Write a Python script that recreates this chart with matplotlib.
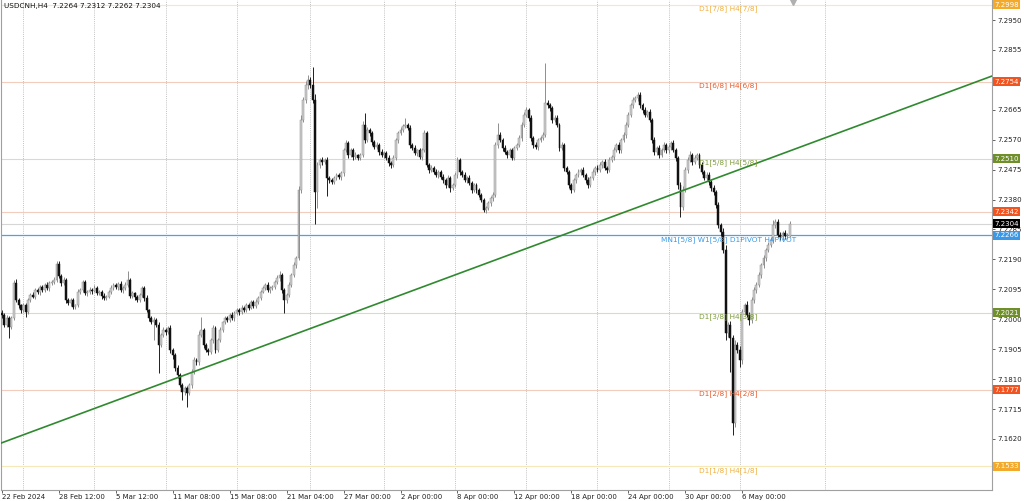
import numpy as np
import matplotlib
matplotlib.use("Agg")
import matplotlib.pyplot as plt
import matplotlib.transforms as mtransforms

# USDCNH H4 closes, one per bar (22 Feb 2024 .. 9 May 2024)
first_open = 7.2020
closes = [
    7.2014, 7.1982, 7.2004, 7.1975, 7.2004, 7.2115, 7.2061, 7.2045, 7.2029, 7.2045, 7.2023, 7.2061,
    7.2077, 7.2071, 7.2093, 7.2087, 7.2102, 7.2093, 7.2109, 7.2099, 7.2115, 7.2118, 7.2125, 7.2175,
    7.2137, 7.2115, 7.2125, 7.2061, 7.2052, 7.2061, 7.2039, 7.2045, 7.2087, 7.2093, 7.2118, 7.2083,
    7.2087, 7.2093, 7.2090, 7.2099, 7.2083, 7.2087, 7.2074, 7.2068, 7.2071, 7.2087, 7.2099, 7.2109,
    7.2102, 7.2112, 7.2093, 7.2099, 7.2109, 7.2125, 7.2074, 7.2083, 7.2071, 7.2061, 7.2077, 7.2099,
    7.2068, 7.2029, 7.2004, 7.1991, 7.1998, 7.1982, 7.1918, 7.1950, 7.1966, 7.1960, 7.1972, 7.1902,
    7.1887, 7.1845, 7.1823, 7.1791, 7.1769, 7.1782, 7.1766, 7.1791, 7.1833, 7.1871, 7.1864, 7.1950,
    7.1966, 7.1918, 7.1902, 7.1896, 7.1934, 7.1972, 7.1902, 7.1934, 7.1966, 7.1991, 7.2004, 7.1998,
    7.2014, 7.2004, 7.2020, 7.2029, 7.2023, 7.2036, 7.2029, 7.2045, 7.2036, 7.2055, 7.2042, 7.2055,
    7.2068, 7.2087, 7.2099, 7.2109, 7.2093, 7.2099, 7.2102, 7.2118, 7.2131, 7.2140, 7.2093, 7.2061,
    7.2077, 7.2109, 7.2140, 7.2172, 7.2194, 7.2410, 7.2633, 7.2696, 7.2744, 7.2760, 7.2744, 7.2696,
    7.2404, 7.2490, 7.2506, 7.2499, 7.2506, 7.2449, 7.2442, 7.2436, 7.2449, 7.2458, 7.2452, 7.2464,
    7.2537, 7.2560, 7.2521, 7.2537, 7.2515, 7.2521, 7.2512, 7.2521, 7.2617, 7.2569, 7.2601, 7.2591,
    7.2563, 7.2547, 7.2553, 7.2531, 7.2521, 7.2528, 7.2512, 7.2496, 7.2490, 7.2512, 7.2569, 7.2591,
    7.2601, 7.2614, 7.2617, 7.2607, 7.2553, 7.2544, 7.2528, 7.2537, 7.2515, 7.2537, 7.2591, 7.2490,
    7.2474, 7.2480, 7.2468, 7.2458, 7.2468, 7.2452, 7.2442, 7.2426, 7.2449, 7.2417, 7.2426, 7.2458,
    7.2506, 7.2468, 7.2458, 7.2442, 7.2449, 7.2433, 7.2410, 7.2426, 7.2410, 7.2394, 7.2379, 7.2347,
    7.2353, 7.2369, 7.2385, 7.2394, 7.2553, 7.2585, 7.2569, 7.2544, 7.2531, 7.2521, 7.2537, 7.2512,
    7.2544, 7.2553, 7.2575, 7.2617, 7.2649, 7.2664, 7.2639, 7.2575, 7.2553, 7.2547, 7.2569, 7.2575,
    7.2585, 7.2687, 7.2680, 7.2671, 7.2633, 7.2639, 7.2617, 7.2544, 7.2553, 7.2480, 7.2468, 7.2426,
    7.2410, 7.2442, 7.2458, 7.2468, 7.2474, 7.2458, 7.2442, 7.2426, 7.2449, 7.2468, 7.2480, 7.2474,
    7.2490, 7.2499, 7.2480, 7.2474, 7.2506, 7.2515, 7.2537, 7.2553, 7.2537, 7.2569, 7.2585, 7.2617,
    7.2649, 7.2680, 7.2696, 7.2702, 7.2712, 7.2680, 7.2664, 7.2649, 7.2658, 7.2633, 7.2569, 7.2531,
    7.2544, 7.2521, 7.2537, 7.2553, 7.2537, 7.2547, 7.2560, 7.2537, 7.2512, 7.2426, 7.2356, 7.2410,
    7.2474, 7.2506, 7.2521, 7.2499, 7.2512, 7.2521, 7.2490, 7.2468, 7.2449, 7.2458, 7.2436, 7.2417,
    7.2404, 7.2363, 7.2299, 7.2277, 7.2220, 7.1956, 7.1982, 7.1941, 7.1671, 7.1918, 7.1902, 7.1871,
    7.2023, 7.2045, 7.2014, 7.1998, 7.2061, 7.2093, 7.2109, 7.2140, 7.2172, 7.2194, 7.2220, 7.2236,
    7.2252, 7.2299, 7.2309, 7.2267, 7.2261, 7.2274, 7.2264, 7.2264, 7.2304,
]
# wick length beyond the body, in pips (0.0001)
upper_wick = [
    8, 6, 10, 5, 6, 9, 12, 6, 5, 8, 6, 7,
    6, 8, 5, 7, 6, 8, 5, 9, 6, 7, 8, 10,
    9, 6, 8, 5, 7, 6, 8, 5, 9, 7, 6, 8,
    6, 8, 5, 9, 6, 7, 5, 8, 6, 7, 9, 6,
    7, 5, 8, 6, 9, 28, 6, 8, 5, 7, 6, 8,
    6, 9, 5, 7, 8, 6, 10, 6, 8, 5, 7, 9,
    7, 6, 9, 5, 8, 6, 7, 6, 9, 8, 6, 12,
    41, 7, 6, 8, 5, 9, 7, 6, 8, 5, 7, 6,
    6, 8, 5, 7, 6, 9, 5, 8, 6, 7, 6, 8,
    7, 6, 8, 5, 9, 6, 7, 8, 10, 12, 6, 5,
    6, 8, 7, 9, 6, 12, 15, 10, 12, 15, 8, 57,
    20, 8, 6, 9, 7, 10, 6, 8, 5, 7, 6, 8,
    6, 10, 7, 8, 6, 9, 5, 7, 12, 38, 8, 6,
    7, 6, 9, 5, 8, 6, 7, 8, 6, 9, 7, 6,
    8, 6, 22, 7, 9, 6, 8, 5, 7, 6, 10, 8,
    6, 9, 7, 8, 6, 7, 9, 5, 8, 6, 7, 9,
    10, 7, 6, 8, 7, 9, 6, 8, 7, 6, 8, 7,
    6, 8, 7, 9, 10, 38, 8, 7, 9, 6, 8, 7,
    7, 8, 9, 10, 8, 10, 7, 8, 6, 9, 7, 8,
    8, 126, 10, 8, 7, 9, 8, 6, 9, 7, 8, 6,
    7, 8, 6, 9, 7, 8, 6, 10, 7, 8, 6, 9,
    8, 7, 9, 6, 8, 7, 9, 8, 10, 7, 8, 9,
    9, 8, 10, 7, 9, 8, 7, 9, 6, 8, 7, 9,
    7, 9, 8, 10, 7, 8, 6, 9, 8, 7, 10, 12,
    8, 10, 12, 7, 9, 8, 6, 9, 7, 8, 10, 7,
    9, 7, 10, 8, 12, 15, 10, 12, 10, 15, 10, 12,
    10, 8, 12, 9, 10, 8, 9, 10, 8, 9, 7, 10,
    9, 16, 10, 8, 9, 7, 8, 9, 8,
]
lower_wick = [
    10, 8, 6, 35, 7, 5, 6, 8, 9, 6, 15, 6,
    7, 5, 8, 6, 9, 5, 7, 6, 8, 5, 6, 7,
    6, 9, 7, 8, 6, 10, 5, 8, 6, 7, 8, 6,
    8, 6, 9, 5, 7, 6, 10, 6, 8, 5, 7, 6,
    6, 8, 5, 9, 6, 7, 8, 6, 9, 5, 7, 6,
    9, 6, 8, 7, 57, 6, 89, 7, 6, 9, 8, 10,
    12, 8, 10, 7, 25, 9, 45, 6, 8, 7, 10, 8,
    6, 9, 7, 10, 6, 8, 9, 7, 6, 8, 5, 7,
    7, 6, 8, 5, 9, 6, 7, 6, 8, 5, 7, 6,
    6, 8, 5, 7, 6, 9, 6, 7, 5, 8, 10, 41,
    8, 6, 7, 5, 8, 6, 10, 8, 9, 12, 10, 8,
    100, 50, 10, 8, 7, 58, 9, 6, 8, 7, 6, 9,
    8, 6, 9, 7, 10, 6, 8, 7, 6, 10, 7, 8,
    9, 7, 6, 10, 7, 8, 6, 9, 10, 7, 6, 8,
    6, 8, 7, 6, 10, 8, 7, 9, 6, 10, 7, 8,
    9, 7, 8, 6, 10, 7, 8, 9, 6, 12, 8, 7,
    8, 9, 7, 6, 8, 7, 10, 6, 9, 7, 8, 6,
    9, 7, 8, 10, 6, 8, 7, 9, 6, 10, 7, 8,
    8, 7, 6, 9, 7, 8, 10, 9, 8, 7, 9, 6,
    7, 6, 8, 10, 9, 7, 8, 10, 6, 9, 8, 10,
    9, 7, 8, 6, 10, 7, 9, 8, 6, 7, 10, 8,
    7, 9, 6, 10, 8, 7, 9, 6, 8, 10, 7, 8,
    8, 7, 9, 6, 8, 10, 9, 7, 8, 6, 10, 8,
    9, 8, 7, 6, 10, 8, 9, 7, 10, 12, 31, 8,
    7, 9, 8, 10, 6, 8, 9, 7, 8, 6, 9, 10,
    8, 10, 9, 12, 10, 22, 12, 108, 38, 12, 10, 22,
    12, 10, 8, 15, 10, 8, 9, 7, 10, 8, 9, 8,
    8, 9, 10, 7, 8, 9, 10, 8, 2,
]

title_text = "USDCNH,H4  7.2264 7.2312 7.2262 7.2304"

# bottom time labels, one every 24 bars
time_label_bars = [0, 24, 48, 72, 96, 120, 144, 168, 192, 216, 240, 264, 288, 312]
time_labels = ['22 Feb 2024', '28 Feb 12:00', '5 Mar 12:00', '11 Mar 08:00', '15 Mar 08:00',
               '21 Mar 04:00', '27 Mar 00:00', '2 Apr 00:00', '8 Apr 00:00', '12 Apr 00:00',
               '18 Apr 00:00', '24 Apr 00:00', '30 Apr 00:00', '6 May 00:00']
# weekly separators (bar index)
week_bars = [9, 39, 69, 99, 130, 161, 191, 221, 251, 281, 311, 347]

price_ticks = [7.2950, 7.2855, 7.2760, 7.2665, 7.2570, 7.2475, 7.2380, 7.2285,
               7.2190, 7.2095, 7.2000, 7.1905, 7.1810, 7.1715, 7.1620]

# Murrey-math levels
level_prices = [7.2998, 7.2754, 7.2510, 7.2342, 7.2266, 7.2021, 7.1777, 7.1533]
level_texts = ['D1[7/8] H4[7/8]', 'D1[6/8] H4[6/8]', 'D1[5/8] H4[5/8]', '',
               'MN1[5/8] W1[5/8] D1PIVOT H4PIVOT', 'D1[3/8] H4[3/8]',
               'D1[2/8] H4[2/8]', 'D1[1/8] H4[1/8]']
level_kinds = ['gold', 'red', 'olive', 'red', 'blue', 'olive', 'red', 'gold']
bid_price = 7.2304

# trend line anchors (bar, price)
trend_a = (0, 7.1608)
trend_b = (333, 7.2537)

line_col = {'gold': '#f6e8b8', 'red': '#f2cdbd', 'olive': '#dcdcbc', 'blue': '#4aa3e6'}
box_col = {'gold': '#f3aa2c', 'red': '#f2531f', 'olive': '#6f8f2a', 'blue': '#3b98e6'}
txt_col = {'gold': '#f0b040', 'red': '#e95a2c', 'olive': '#7f9d3e', 'blue': '#3b98e6'}

plt.rcParams['font.family'] = ['DejaVu Sans']
FS = 5.0

c = np.array(closes)
o = np.array([first_open] + closes[:-1])
hi = np.maximum(o, c) + np.array(upper_wick) / 10000.0
lo = np.minimum(o, c) - np.array(lower_wick) / 10000.0
x = np.arange(len(c))
bull = c >= o
bear = ~bull

fig = plt.figure(figsize=(10.24, 5.01), dpi=100)
ax = fig.add_axes([1 / 1024, 11 / 501, 991 / 1024, 490 / 501])
ax.set_xlim(-0.4, 417.3)
ax.set_ylim(7.1458, 7.30135)

for wb in week_bars:
    ax.axvline(wb, color='#c2c2c2', lw=0.7, ls=(0, (1, 1.2)), zorder=0)

for p, k in zip(level_prices, level_kinds):
    ax.axhline(p, color=line_col[k], lw=0.9 if k == 'blue' else 0.8, zorder=1)
ax.axhline(bid_price, color='#d6d6d6', lw=0.8, zorder=1)

ax.axline(trend_a, trend_b, color='#2f8a2f', lw=1.2, zorder=4)

# candles
ax.vlines(x[bull], lo[bull], hi[bull], color='#8e8e8e', lw=0.7, zorder=2)
ax.vlines(x[bear], lo[bear], hi[bear], color='#1e1e1e', lw=0.7, zorder=2)
bh = np.maximum(np.abs(c - o), 0.00006)
ax.bar(x[bull], bh[bull], bottom=o[bull], width=0.8, color='#cdcdcd',
       edgecolor='#8e8e8e', linewidth=0.35, zorder=3)
ax.bar(x[bear], bh[bear], bottom=c[bear], width=0.8, color='#111111',
       edgecolor='#111111', linewidth=0.35, zorder=3)

# level captions
trans_mix = mtransforms.blended_transform_factory(ax.transAxes, ax.transData)
for p, t, k in zip(level_prices, level_texts, level_kinds):
    if t:
        ax.text(0.734, p - 0.0002, t, transform=trans_mix,
                ha='center', va='top', fontsize=FS + 0.3, color=txt_col[k], zorder=5)

# right price axis
ax.yaxis.tick_right()
ax.set_yticks(price_ticks)
ax.set_yticklabels([f"{v:.4f}" for v in price_ticks])
ax.tick_params(axis='y', labelsize=FS, colors='#222222', length=2, width=0.5, pad=2)

ax.set_xticks(time_label_bars)
ax.set_xticklabels(time_labels, ha='left')
ax.tick_params(axis='x', labelsize=FS, colors='#222222', length=2, width=0.5, pad=1)

for s in ax.spines.values():
    s.set_color('#a0a0a0')
    s.set_linewidth(0.8)
ax.spines['top'].set_visible(False)

# price boxes on the right scale
for p, k in zip(level_prices, level_kinds):
    ax.text(1.002, p, f"{p:.4f}", transform=trans_mix, ha='left', va='center', fontsize=FS,
            color='white', zorder=10, clip_on=False,
            bbox=dict(boxstyle='square,pad=0.2', fc=box_col[k], ec='none'))
ax.text(1.002, bid_price, f"{bid_price:.4f}", transform=trans_mix, ha='left', va='center',
        fontsize=FS, color='white', zorder=10, clip_on=False,
        bbox=dict(boxstyle='square,pad=0.2', fc='#000000', ec='none'))

ax.text(0.003, 0.988, title_text, transform=ax.transAxes, ha='left', va='center',
        fontsize=FS + 0.2, color='#111111')
ax.plot([0.7995], [0.996], marker='v', ms=5, color='#b0b0b0', transform=ax.transAxes,
        clip_on=False)

fig.savefig('out.png', dpi=100, facecolor='white')
